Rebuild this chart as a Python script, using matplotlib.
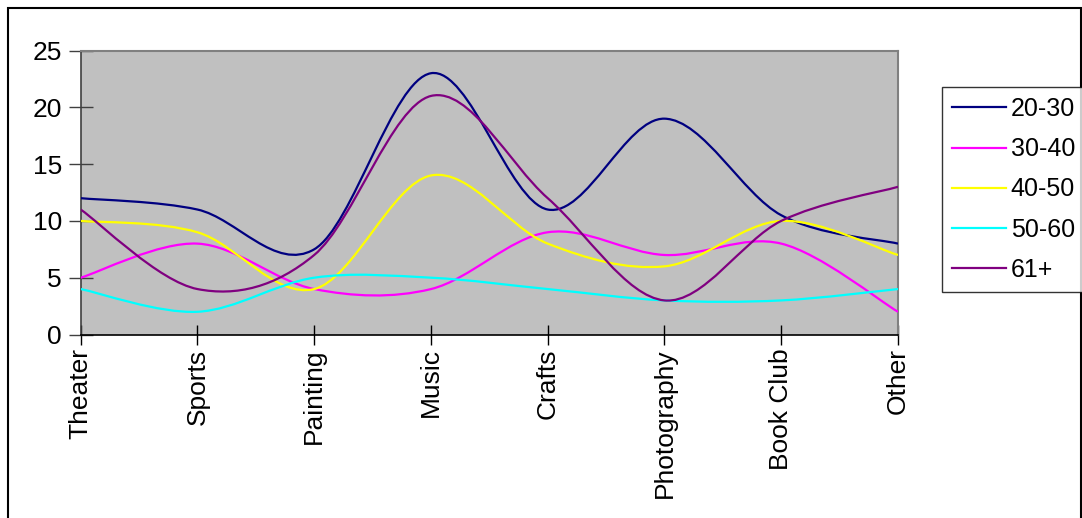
import matplotlib
matplotlib.use("Agg")
import matplotlib.pyplot as plt
from matplotlib.path import Path
from matplotlib.patches import PathPatch, Rectangle
from matplotlib.lines import Line2D

plt.rcParams['font.family'] = ['Liberation Sans', 'DejaVu Sans']

categories = ["Theater", "Sports", "Painting", "Music", "Crafts", "Photography", "Book Club", "Other"]
series_names = ["20-30", "30-40", "40-50", "50-60", "61+"]
s_20_30 = [12, 11, 7.5, 23, 11, 19, 10.5, 8]
s_30_40 = [5, 8, 4, 4, 9, 7, 8, 2]
s_40_50 = [10, 9, 4, 14, 8, 6, 10, 7]
s_50_60 = [4, 2, 5, 5, 4, 3, 3, 4]
s_61 = [11, 4, 7, 21, 12, 3, 10, 13]
series_values = [s_20_30, s_30_40, s_40_50, s_50_60, s_61]
colors = ["#000080", "#FF00FF", "#FFFF00", "#00FFFF", "#800080"]
y_ticks = [0, 5, 10, 15, 20, 25]

fig = plt.figure(figsize=(10.82, 5.18), dpi=100)
fig.patch.set_facecolor("white")

# outer chart border
fig.add_artist(Rectangle((8 / 1082, -0.05), (1080.5 - 8) / 1082, 1.05 - 8 / 518,
                         transform=fig.transFigure, fill=False, edgecolor="black",
                         linewidth=1.5))

ax = fig.add_axes([80.7 / 1082, (518 - 334.5) / 518, (898 - 80.7) / 1082, (334.5 - 50.5) / 518])
ax.set_facecolor("#C0C0C0")


def smooth_path(xs, ys):
    n = len(xs)
    verts = [(xs[0], ys[0])]
    codes = [Path.MOVETO]
    for i in range(n - 1):
        x0, y0 = (xs[i - 1], ys[i - 1]) if i > 0 else (xs[i], ys[i])
        x1, y1 = xs[i], ys[i]
        x2, y2 = xs[i + 1], ys[i + 1]
        x3, y3 = (xs[i + 2], ys[i + 2]) if i + 2 < n else (xs[i + 1], ys[i + 1])
        c1 = (x1 + (x2 - x0) / 6.0, y1 + (y2 - y0) / 6.0)
        c2 = (x2 - (x3 - x1) / 6.0, y2 - (y3 - y1) / 6.0)
        verts += [c1, c2, (x2, y2)]
        codes += [Path.CURVE4, Path.CURVE4, Path.CURVE4]
    return Path(verts, codes)


xs = list(range(len(categories)))
handles = []
for name, vals, col in zip(series_names, series_values, colors):
    p = smooth_path(xs, vals)
    ax.add_patch(PathPatch(p, fill=False, edgecolor=col, linewidth=1.6, zorder=3))
    handles.append(Line2D([], [], color=col, linewidth=1.6, label=name))

ax.set_xlim(0, len(categories) - 1)
ax.set_ylim(0, 25)
ax.set_yticks(y_ticks)
ax.set_yticklabels([str(v) for v in y_ticks])
ax.set_xticks(xs)
ax.set_xticklabels(categories, rotation=90, va="top", ha="center")

ax.tick_params(axis="y", direction="inout", length=17, width=1, labelsize=19, pad=5, color="#404040")
ax.tick_params(axis="x", direction="inout", length=14, width=1, labelsize=19, pad=3, color="black")

for side in ["top", "right"]:
    ax.spines[side].set_color("#808080")
    ax.spines[side].set_linewidth(1.5)
ax.spines["left"].set_color("#404040")
ax.spines["bottom"].set_color("black")
ax.spines["left"].set_linewidth(1.2)
ax.spines["bottom"].set_linewidth(1.2)

leg = fig.legend(handles=handles, loc="upper left",
                 bbox_to_anchor=(942 / 1082, (518 - 87) / 518),
                 frameon=True, fancybox=False, shadow=False,
                 fontsize=18, handlelength=2.15, handletextpad=0.2,
                 labelspacing=0.65, borderpad=0.4, borderaxespad=0)
leg.get_frame().set_edgecolor("black")
leg.get_frame().set_linewidth(1.0)

fig.savefig("out.png", dpi=100, facecolor="white")
